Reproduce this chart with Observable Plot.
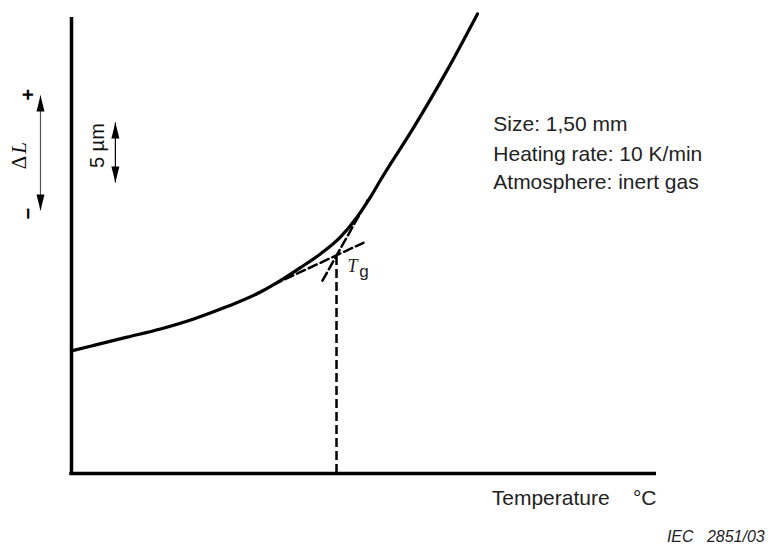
<!DOCTYPE html>
<html>
<head>
<meta charset="utf-8">
<script src="https://cdn.jsdelivr.net/npm/d3@7"></script>
<script src="https://cdn.jsdelivr.net/npm/@observablehq/plot@0.6"></script>
<style>
  html, body { margin: 0; padding: 0; background: #fff; }
  #chart { width: 768px; height: 550px; }
</style>
</head>
<body>
<div id="chart"></div>
<script>
// Schematic dilatometer curve: temperature (arbitrary units 0-100) vs length change ΔL (arbitrary units 0-100)
const curveT = [0, 3.8, 9.5, 15.2, 20.9, 26.6, 32.3, 35.7, 39.2, 42.6, 46.0, 48.8, 51.1, 52.8, 58.5, 64.2, 69.4];
const curveL = [26.9, 28.1, 29.9, 31.7, 33.9, 36.6, 39.8, 42.3, 45.2, 48.2, 51.9, 56.2, 60.6, 64.3, 75.9, 88.4, 100.8];

// Tangent (extrapolated) lines and the glass transition point
const glassT = [34.5, 49.9];
const glassL = [41.4, 50.6];
const rubberT = [42.9, 50.6];
const rubberL = [42.3, 59.9];
const tgT = 45.3;
const tgL = 47.8;

// Scale arrows (ΔL direction arrow and 5 µm reference)
const arrowNames = ["ΔL", "5 µm"];
const arrowT = [-5.3, 7.5];
const arrowTop = [82.9, 77.0];
const arrowBottom = [57.7, 63.8];

// Annotation text
const infoLines = ["Size: 1,50 mm", "Heating rate: 10 K/min", "Atmosphere: inert gas"];
const infoL = [75.1, 68.6, 62.5];
const xLabel = "Temperature\u00a0\u00a0\u00a0\u00a0°C";
const figId = "IEC\u00a0\u00a0\u00a02851/03";

const curve = curveT.map((t, i) => ({t, l: curveL[i]}));
const glass = glassT.map((t, i) => ({t, l: glassL[i]}));
const rubber = rubberT.map((t, i) => ({t, l: rubberL[i]}));
const arrows = arrowNames.map((name, i) => ({name, t: arrowT[i], top: arrowTop[i], bottom: arrowBottom[i]}));
const info = infoLines.map((text, i) => ({text, l: infoL[i]}));

const head = {
  draw(ctx) {
    ctx.moveTo(0, 0);
    ctx.lineTo(4, 16);
    ctx.lineTo(-4, 16);
    ctx.closePath();
  }
};

const sans = "'Liberation Sans', Arial, sans-serif";
const serif = "'Liberation Serif', 'Times New Roman', serif";

const plot = Plot.plot({
  width: 768,
  height: 550,
  marginLeft: 71,
  marginRight: 112,
  marginTop: 17,
  marginBottom: 77,
  x: {domain: [0, 100], axis: null},
  y: {domain: [0, 100], axis: null},
  style: {fontFamily: sans, background: "#fff", overflow: "visible"},
  marks: [
    // axes
    Plot.ruleX([0], {y1: 0, y2: 100, stroke: "#000", strokeWidth: 3.5}),
    Plot.ruleY([0], {x1: -0.3, x2: 100, stroke: "#000", strokeWidth: 3.5}),
    // dashed construction lines
    Plot.line(glass, {x: "t", y: "l", stroke: "#000", strokeWidth: 2.5, strokeDasharray: "9,4"}),
    Plot.line(rubber, {x: "t", y: "l", stroke: "#000", strokeWidth: 2.5, strokeDasharray: "9,4"}),
    Plot.ruleX([tgT], {y1: 0, y2: tgL, stroke: "#000", strokeWidth: 2.5, strokeDasharray: "9,4"}),
    // main curve
    Plot.line(curve, {x: "t", y: "l", stroke: "#000", strokeWidth: 3.2, curve: "monotone-x"}),
    // arrows
    Plot.link(arrows, {x1: "t", x2: "t", y1: "bottom", y2: "top", stroke: (d) => d.name === "ΔL" ? "#555" : "#000", strokeWidth: 1.2}),
    Plot.dot(arrows, {x: "t", y: "top", symbol: head, fill: "#000", stroke: null, r: 5}),
    Plot.dot(arrows, {x: "t", y: "bottom", symbol: head, fill: "#000", stroke: null, r: 5, rotate: 180}),
    // ΔL label with + and −
    Plot.text(["+"], {x: -7.3, y: 83.1, text: (d) => d, rotate: -90, fontSize: 20, fontWeight: "bold", fill: "#000"}),
    Plot.text(["−"], {x: -7.3, y: 57.0, text: (d) => d, rotate: -90, fontSize: 20, fontWeight: "bold", fill: "#000"}),
    Plot.text(["Δ"], {x: -8.9, y: 68.2, text: (d) => d, rotate: -90, fontSize: 21, fontFamily: serif, fill: "#111"}),
    Plot.text(["L"], {x: -8.9, y: 71.4, text: (d) => d, rotate: -90, fontSize: 21, fontFamily: serif, fontStyle: "italic", fill: "#111"}),
    // 5 µm label
    Plot.text(["5 µm"], {x: 4.44, y: 71.9, text: (d) => d, rotate: -90, fontSize: 20, fill: "#111"}),
    // Tg label
    Plot.text(["T"], {x: 47.2, y: 44.1, text: (d) => d, textAnchor: "start", lineAnchor: "bottom", fontSize: 18, fontFamily: serif, fontStyle: "italic", fill: "#222"}),
    Plot.text(["g"], {x: 49.2, y: 43.2, text: (d) => d, textAnchor: "start", lineAnchor: "bottom", fontSize: 17, fill: "#222"}),
    // information block
    Plot.text(info, {x: 72.1, y: "l", text: "text", textAnchor: "start", lineAnchor: "bottom", fontSize: 21, fill: "#222"}),
    // axis label and figure id
    Plot.text([xLabel], {x: 100, y: -6.8, text: (d) => d, textAnchor: "end", lineAnchor: "bottom", fontSize: 21, fill: "#222"}),
    Plot.text([figId], {x: 118.5, y: -15.1, text: (d) => d, textAnchor: "end", lineAnchor: "bottom", fontSize: 16, fontStyle: "italic", fill: "#222"})
  ]
});

document.getElementById("chart").appendChild(plot);
</script>
</body>
</html>
